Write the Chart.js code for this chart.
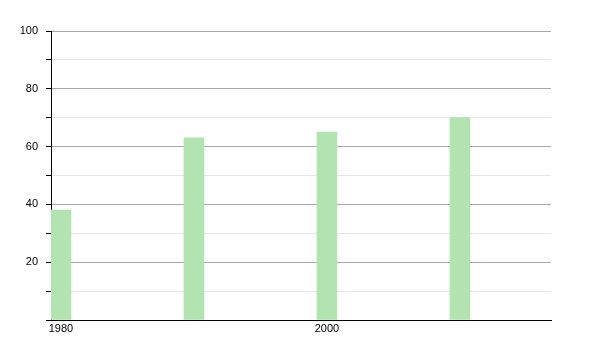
<!DOCTYPE html>
<html>
<head>
<meta charset="utf-8">
<script src="https://cdn.jsdelivr.net/npm/chart.js@4/dist/chart.umd.min.js"></script>
<style>
  html, body { margin: 0; padding: 0; background: #fff; }
  #wrap { width: 600px; height: 350px; }
</style>
</head>
<body>
<div id="wrap"><canvas id="myChart" width="600" height="350"></canvas></div>
<script>
// chart values
const years = [1980, 1990, 2000, 2010];
const values = [38, 63, 65, 70];
const xTickLabels = [1980, 2000];
const yTickLabels = [20, 40, 60, 80, 100];

document.addEventListener('DOMContentLoaded', function() {
    const ctx = document.getElementById('myChart').getContext('2d');

    const points = years.map(function(y, i) { return { x: y, y: values[i] }; });

    new Chart(ctx, {
        type: 'bar',
        data: {
            datasets: [{
                data: points,
                backgroundColor: '#b2e3b0',
                borderWidth: 0,
                barThickness: 20
            }]
        },
        options: {
            responsive: false,
            animation: false,
            layout: { padding: { left: 0, right: 49, top: 31, bottom: 0 } },
            plugins: {
                legend: { display: false },
                tooltip: { enabled: false }
            },
            scales: {
                x: {
                    type: 'linear',
                    offset: false,
                    min: 1979.25,
                    max: 2016.85,
                    afterBuildTicks: function(scale) {
                        scale.ticks = xTickLabels.map(function(v) { return { value: v }; });
                    },
                    afterFit: function(scale) { scale.height = 30; },
                    grid: { display: false, tickLength: 0 },
                    border: { display: true, color: '#000', width: 1 },
                    ticks: {
                        color: '#000',
                        padding: 2,
                        maxRotation: 0,
                        font: { family: 'Liberation Sans, Arial, sans-serif', size: 11 },
                        callback: function(v) { return String(v); }
                    }
                },
                y: {
                    min: 0,
                    max: 100,
                    afterFit: function(scale) { scale.width = 51; },
                    ticks: {
                        stepSize: 10,
                        color: '#000',
                        padding: 8,
                        font: { family: 'Liberation Sans, Arial, sans-serif', size: 11 },
                        callback: function(v) { return yTickLabels.includes(v) ? String(v) : ''; }
                    },
                    grid: {
                        color: function(c) {
                            if (c.tick && c.tick.value === 0) return 'rgba(0,0,0,0)';
                            return c.tick && c.tick.value % 20 === 0 ? '#a8a8a8' : '#e6e6e6';
                        },
                        tickColor: '#000',
                        tickLength: 5,
                        lineWidth: 1
                    },
                    border: { display: true, color: '#000', width: 1 }
                }
            }
        }
    });
});
</script>
</body>
</html>
